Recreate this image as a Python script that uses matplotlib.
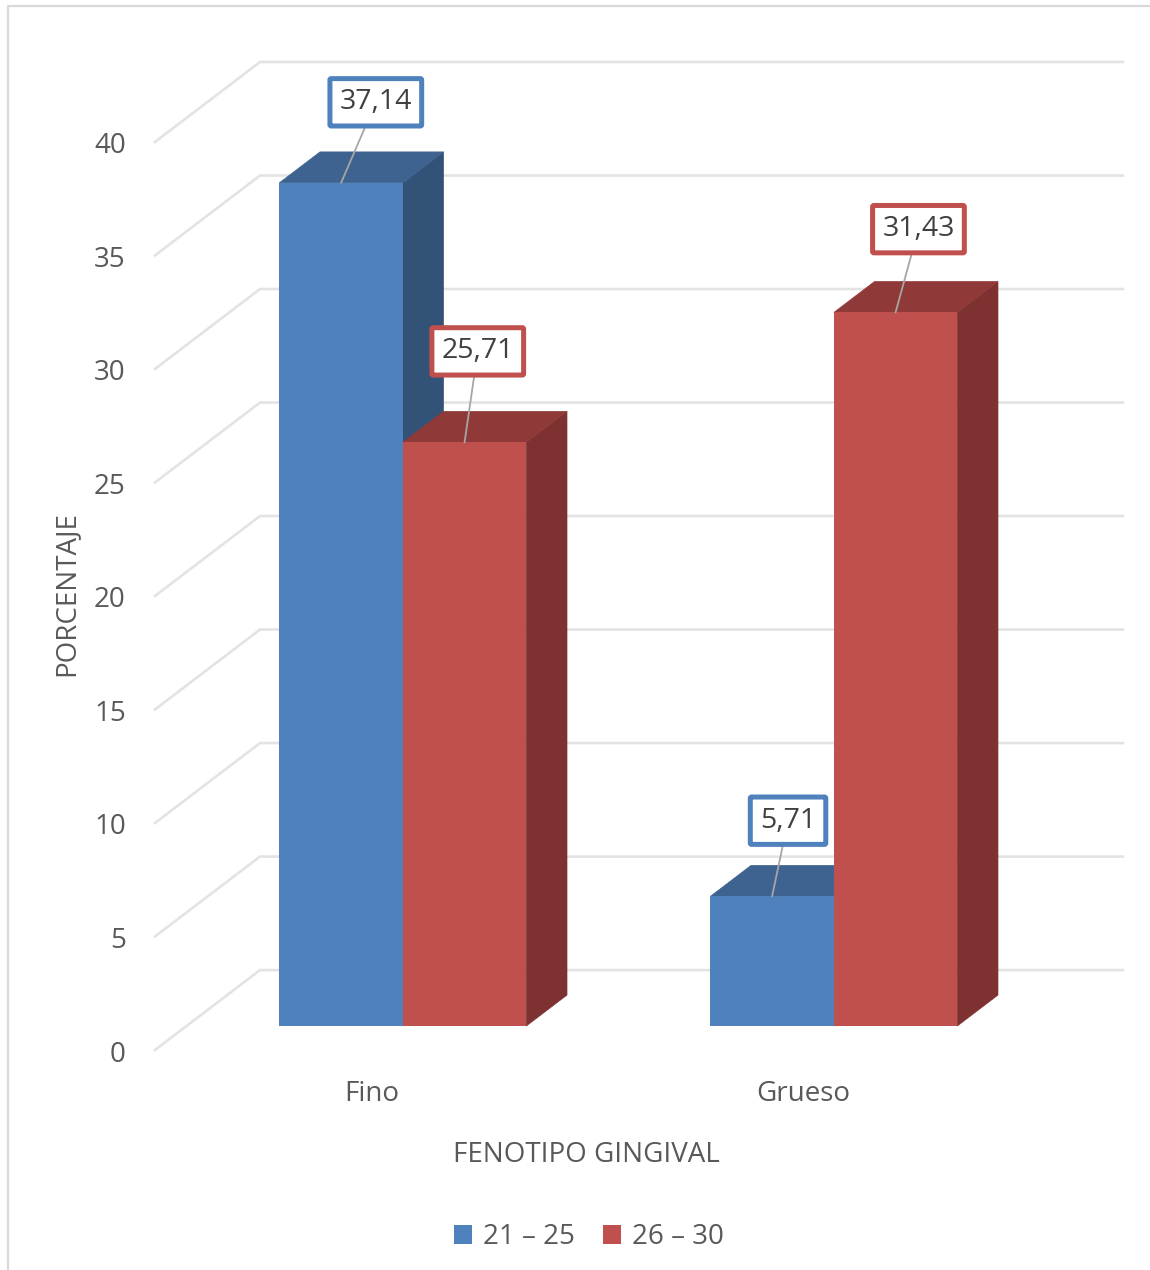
import matplotlib
matplotlib.use('Agg')
import matplotlib.pyplot as plt
from matplotlib.lines import Line2D
from matplotlib.patches import Polygon
from matplotlib.transforms import ScaledTranslation

categories = ['Fino', 'Grueso']
series_names = ['21 – 25', '26 – 30']
series_values = [[37.14, 5.71], [25.71, 31.43]]
y_ticks = [0, 5, 10, 15, 20, 25, 30, 35, 40]

front_colors = ['#4F81BD', '#C0504D']
top_colors = ['#3F6390', '#8F3A38']
side_colors = ['#335278', '#7D3130']
text_color = '#595959'
grid_color = '#E3E3E3'

# fake 3d: how far the back wall sits from the front edge, in data units
depth_x = 0.2436
depth_y = 3.52
bar_width = 0.2865
# bars stand part way into the floor
bar_front = 0.3
bar_back = 0.6875

# where each label box goes, offset in points from the top of its bar
label_offsets = [[(25, 58), (9.5, 65.5)], [(11.5, 54.5), (16.5, 60)]]

plt.rcParams['font.family'] = ['Open Sans', 'DejaVu Sans']

fig = plt.figure(figsize=(11.5, 12.7), dpi=100)
ax = fig.add_axes([155 / 1150, 1 - 1050 / 1270, 968 / 1150, 988 / 1270])
ax.set_xlim(-0.575, 1.671)
ax.set_ylim(0, 40 + depth_y)
for s in ax.spines.values():
    s.set_visible(False)

# floor edge and back wall lines
for t in y_ticks:
    ax.plot([-0.575, -0.575 + depth_x, 1.671], [t, t + depth_y, t + depth_y],
            color=grid_color, lw=1.9, zorder=1, clip_on=False, solid_joinstyle='miter')

base = bar_front * depth_y
dx = (bar_back - bar_front) * depth_x
dy = (bar_back - bar_front) * depth_y
handles = []
for c in range(len(categories)):
    for i, vals in enumerate(series_values):
        left = c - bar_width + i * bar_width
        right = left + bar_width
        top = base + vals[c]
        # same colour edge closes the hairline seam against the front face
        side = Polygon([(right, base), (right + dx, base + dy), (right + dx, top + dy), (right, top)],
                       facecolor=side_colors[i], edgecolor=side_colors[i], lw=0.5, zorder=2 + c + i)
        roof = Polygon([(left, top), (left + dx, top + dy), (right + dx, top + dy), (right, top)],
                       facecolor=top_colors[i], edgecolor=top_colors[i], lw=0.5, zorder=2 + c + i)
        ax.add_patch(side)
        ax.add_patch(roof)
        bar = ax.bar(left, vals[c], bar_width, bottom=base, align='edge',
                     color=front_colors[i], zorder=2 + c + i)
        if c == 0:
            handles.append(bar[0])

        txt = ('%.2f' % vals[c]).replace('.', ',')
        ax.annotate(txt, xy=(left + bar_width / 2, top), xytext=label_offsets[c][i],
                    textcoords='offset points', ha='center', va='center',
                    fontsize=20.5, color='#404040', zorder=10,
                    bbox=dict(boxstyle='round,pad=0.34,rounding_size=0.05', facecolor='white',
                              edgecolor=front_colors[i], linewidth=3.6),
                    arrowprops=dict(arrowstyle='-', color='#A6A6A6', lw=1.3,
                                    shrinkA=0, shrinkB=0))

ax.set_yticks(y_ticks)
ax.set_xticks([c - 0.072 for c in range(len(categories))])
ax.set_xticklabels(categories)
ax.tick_params(axis='y', length=0, pad=21, labelsize=20, labelcolor=text_color)
ax.tick_params(axis='x', length=0, pad=21.5, labelsize=20, labelcolor=text_color)
# nudge the value labels down a little
nudge = ScaledTranslation(0, -1 / 100, fig.dpi_scale_trans)
for lab in ax.get_yticklabels():
    lab.set_transform(lab.get_transform() + nudge)

ax.set_xlabel('FENOTIPO GINGIVAL', fontsize=20, color=text_color)
ax.xaxis.set_label_coords((586 - 155) / 968, -105 / 988, transform=ax.transAxes)
ax.xaxis.label.set_va('center')
ax.set_ylabel('PORCENTAJE', fontsize=20, color=text_color)
ax.yaxis.set_label_coords((66 - 155) / 968, (1050 - 594) / 988, transform=ax.transAxes)
ax.yaxis.label.set_va('center')

fig.legend(handles, series_names, loc='center', bbox_to_anchor=(589 / 1150, 1 - 1237 / 1270),
           ncol=2, frameon=False, fontsize=20, labelcolor=text_color, handlelength=0.65,
           handleheight=0.65, handletextpad=0.4, columnspacing=1.0)

# chart frame, only the top and left edges are in view
fig.add_artist(Line2D([8 / 1150, 8 / 1150, 1], [0, 1 - 6 / 1270, 1 - 6 / 1270],
                      color='#D9D9D9', lw=1.6, transform=fig.transFigure))

fig.savefig('out.png', dpi=100, facecolor='white')
